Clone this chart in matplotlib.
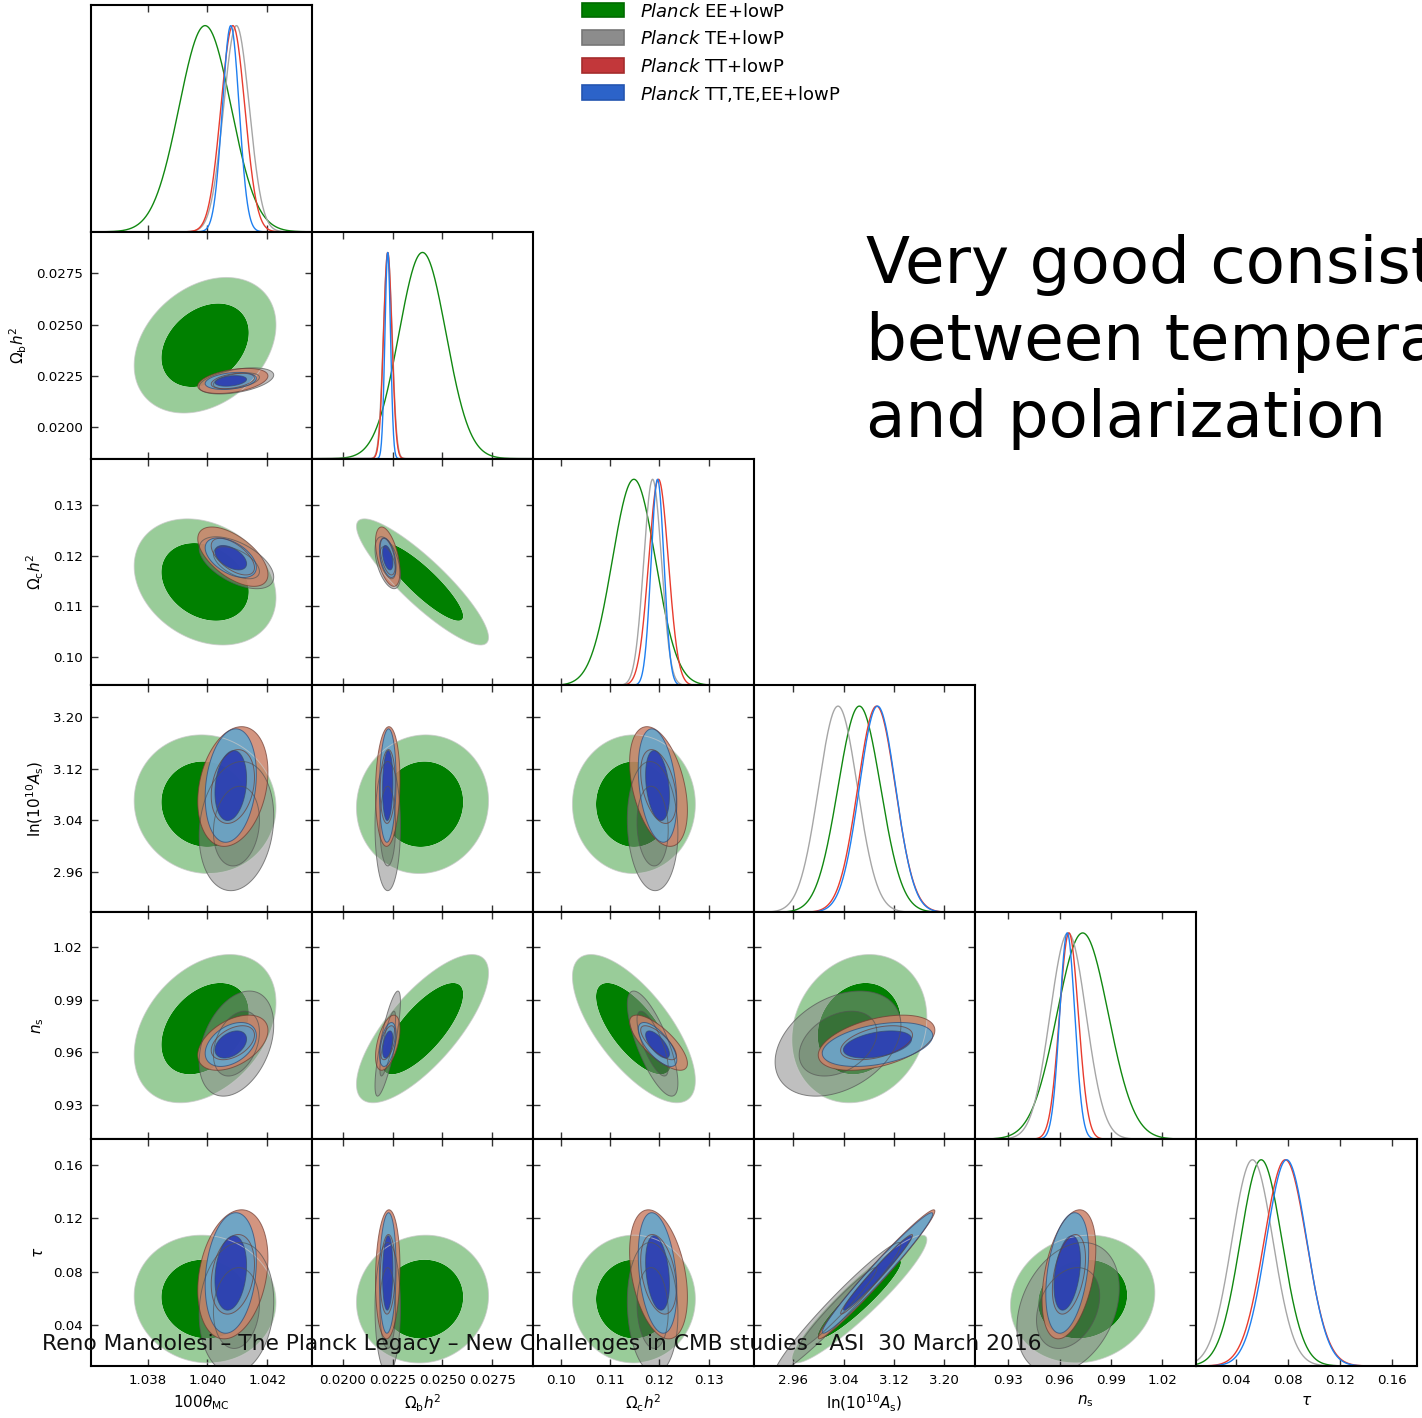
import numpy as np
import matplotlib
matplotlib.use("Agg")
import matplotlib.pyplot as plt
from matplotlib.patches import Rectangle

# ---------------------------------------------------------------- parameters
labels = [r'$100\theta_{\rm MC}$', r'$\Omega_{\rm b}h^2$', r'$\Omega_{\rm c}h^2$',
          r'${\rm ln}(10^{10}A_{\rm s})$', r'$n_{\rm s}$', r'$\tau$']
ranges = [(1.0361, 1.0435), (0.01847, 0.02953), (0.0943, 0.1392),
          (2.897, 3.2495), (0.9107, 1.0396), (0.0095, 0.1790)]
ticks = [[1.038, 1.040, 1.042], [0.0200, 0.0225, 0.0250, 0.0275],
         [0.10, 0.11, 0.12, 0.13], [2.96, 3.04, 3.12, 3.20],
         [0.93, 0.96, 0.99, 1.02], [0.04, 0.08, 0.12, 0.16]]
tick_fmt = ['%.3f', '%.4f', '%.2f', '%.2f', '%.2f', '%.2f']

# ---------------------------------------------------------------- datasets
names = ['EE+lowP', 'TE+lowP', 'TT+lowP', 'TT,TE,EE+lowP']

# posterior means
mean_EE = [1.03992, 0.02400, 0.1148, 3.065, 0.9735, 0.0595]
mean_TE = [1.04097, 0.02226, 0.1186, 3.031, 0.9650, 0.0528]
mean_TT = [1.04085, 0.02226, 0.1198, 3.0925, 0.9655, 0.0780]
mean_ALL = [1.04078, 0.02226, 0.1196, 3.094, 0.9645, 0.0790]

# widths of the 2D contours
sig2_EE = [0.00097, 0.00135, 0.0051, 0.044, 0.0172, 0.0195]
sig2_TE = [0.00051, 0.00026, 0.0021, 0.041, 0.0122, 0.0200]
sig2_TT = [0.00048, 0.00025, 0.0024, 0.038, 0.0064, 0.0197]
sig2_ALL = [0.00035, 0.00017, 0.0016, 0.036, 0.0051, 0.0184]

# widths of the 1D marginals
sig1_EE = [0.00087, 0.00118, 0.0044, 0.034, 0.0150, 0.0160]
sig1_TE = [0.00043, 0.00022, 0.0018, 0.031, 0.0105, 0.0158]
sig1_TT = [0.00040, 0.00021, 0.0020, 0.030, 0.0055, 0.0163]
sig1_ALL = [0.00028, 0.00014, 0.0013, 0.029, 0.0044, 0.0156]

# correlation coefficients (lower triangle, row i against columns 0..i-1)
rho_EE = [[],
          [0.30],
          [-0.25, -0.88],
          [-0.05, 0.05, 0.00],
          [0.35, 0.75, -0.70, 0.15],
          [-0.05, 0.05, 0.00, 0.93, 0.10]]
rho_TE = [[],
          [0.45],
          [-0.55, -0.50],
          [0.15, 0.00, -0.10],
          [0.35, 0.80, -0.75, 0.35],
          [0.10, 0.00, -0.10, 0.97, 0.30]]
rho_TT = [[],
          [0.40],
          [-0.60, -0.50],
          [0.25, 0.10, -0.40],
          [0.45, 0.50, -0.75, 0.45],
          [0.25, 0.10, -0.35, 0.98, 0.40]]
rho_ALL = [[],
           [0.30],
           [-0.50, -0.45],
           [0.20, 0.10, -0.30],
           [0.40, 0.45, -0.70, 0.40],
           [0.20, 0.10, -0.30, 0.98, 0.35]]

means = [mean_EE, mean_TE, mean_TT, mean_ALL]
sig2 = [sig2_EE, sig2_TE, sig2_TT, sig2_ALL]
sig1 = [sig1_EE, sig1_TE, sig1_TT, sig1_ALL]
rhos = [rho_EE, rho_TE, rho_TT, rho_ALL]

# ---------------------------------------------------------------- styles
fill_inner = ['#008000', '#666666', '#b8392e', '#1a44c8']
fill_outer = ['#99cc99', '#8c8c8c', '#cc836a', '#5fa8d2']
fill_alpha = [1.0, 0.55, 0.85, 0.85]
edge_col = ['#c8c8c8', '#555555', '#6e3a30', '#2a4a7a']
line_col = ['#118811', '#a6a6a6', '#e83c2e', '#1e7ff0']
legend_face = ['#008000', '#8c8c8c', '#c2373a', '#2c63c9']
legend_edge = ['#006a00', '#777777', '#a52c2c', '#2455b0']

CHI2_68, CHI2_95 = 2.28, 5.99

W, H = 1422, 1418
fig = plt.figure(figsize=(W / 100, H / 100), dpi=100)

x0, y0, pw, ph = 91.0, 5.0, 221.0, 226.83
n = len(labels)

for i in range(n):
    for j in range(i + 1):
        ax = fig.add_axes([(x0 + j * pw) / W, 1 - (y0 + (i + 1) * ph) / H, pw / W, ph / H])
        for sp in ax.spines.values():
            sp.set_linewidth(1.5)
            sp.set_color('black')
        xr = ranges[j]
        if i == j:
            xs = np.linspace(xr[0], xr[1], 600)
            for k in range(4):
                m, s = means[k][i], sig1[k][i]
                ax.plot(xs, np.exp(-0.5 * ((xs - m) / s) ** 2), color=line_col[k], lw=1.0)
            ax.set_ylim(0, 1.1)
            ax.set_yticks([])
        else:
            yr = ranges[i]
            X, Y = np.meshgrid(np.linspace(xr[0], xr[1], 400), np.linspace(yr[0], yr[1], 400))
            for k in range(4):
                mx, my = means[k][j], means[k][i]
                sx, sy = sig2[k][j], sig2[k][i]
                r = rhos[k][i][j]
                dx, dy = (X - mx) / sx, (Y - my) / sy
                chi2 = (dx ** 2 - 2 * r * dx * dy + dy ** 2) / (1 - r ** 2)
                ax.contourf(X, Y, chi2, levels=[0, CHI2_68, CHI2_95],
                            colors=[fill_inner[k], fill_outer[k]], alpha=fill_alpha[k],
                            antialiased=True)
                ax.contour(X, Y, chi2, levels=[CHI2_68, CHI2_95] if k else [CHI2_95],
                           colors=edge_col[k], linewidths=0.7, alpha=0.7)
            ax.set_ylim(*yr)
            ax.set_yticks(ticks[i])
            ax.set_yticklabels([tick_fmt[i] % t for t in ticks[i]])
        ax.set_xlim(*xr)
        ax.set_xticks(ticks[j])
        ax.set_xticklabels([tick_fmt[j] % t for t in ticks[j]])
        ax.tick_params(direction='in', length=4.8, width=1.0, color='#333333',
                       labelsize=9.6, pad=6, top=True, bottom=True,
                       left=(i != j), right=(i != j),
                       labelbottom=(i == n - 1), labelleft=(j == 0 and i != j))
        if i == n - 1:
            ax.set_xlabel(labels[j], fontsize=11, labelpad=4, math_fontfamily='dejavusans')
        if j == 0 and i != j:
            ax.set_ylabel(labels[i], fontsize=11, labelpad=5, math_fontfamily='dejavusans')

# ---------------------------------------------------------------- legend
for k in range(4):
    top = 2.7 + k * 27.6
    fig.add_artist(Rectangle((581.7 / W, 1 - (top + 14.6) / H), 42.3 / W, 14.6 / H,
                             transform=fig.transFigure, facecolor=legend_face[k],
                             edgecolor=legend_edge[k], lw=1.2))
    fig.text(640 / W, 1 - (16.7 + k * 27.6) / H, r'$\mathit{Planck}$ ' + names[k],
             fontsize=13.0, va='baseline', ha='left', math_fontfamily='dejavusans')

# ---------------------------------------------------------------- slide text
headline = ['Very good consistency', 'between temperature', 'and polarization']
for k, line in enumerate(headline):
    fig.text(866 / W, 1 - (283.5 + k * 76.7) / H, line, fontsize=46.4,
             va='baseline', ha='left', color='black')

fig.text(42 / W, 1 - 1350 / H,
         'Reno Mandolesi \u2013 The Planck Legacy \u2013 New Challenges in CMB studies - ASI  30 March 2016',
         fontsize=15.7, va='baseline', ha='left', color='#111111', zorder=20)

fig.savefig('out.png', dpi=100)
